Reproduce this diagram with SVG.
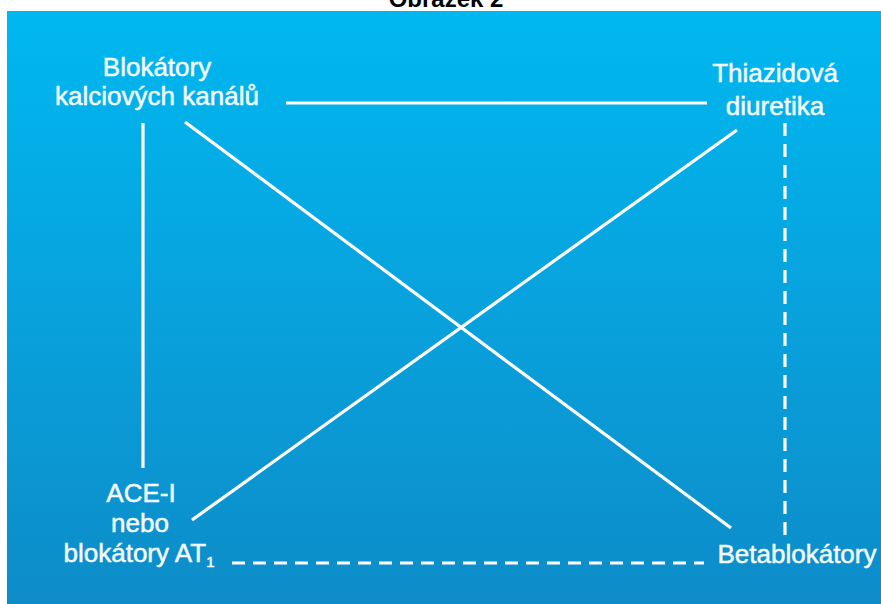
<svg xmlns="http://www.w3.org/2000/svg" width="881" height="604" viewBox="0 0 881 604">
<defs>
<linearGradient id="bg" x1="0" y1="0" x2="0" y2="1">
<stop offset="0" stop-color="#00B8F0"/>
<stop offset="0.5" stop-color="#08A2DD"/>
<stop offset="1" stop-color="#0D8CC8"/>
</linearGradient>
<style>
.lbl{font-family:"Liberation Sans",Arial,sans-serif;font-size:26px;fill:#F4FBFF;stroke:#F4FBFF;stroke-width:0.5;text-anchor:middle}
.ln{stroke:#FFFFFF;stroke-width:3.2;fill:none;stroke-linecap:butt}
.dash{stroke-dasharray:13 8}
</style>
</defs>
<rect x="0" y="0" width="881" height="604" fill="#FFFFFF"/>
<text x="446" y="7" font-family="Liberation Sans,Arial,sans-serif" font-size="24" font-weight="bold" text-anchor="middle" fill="#000000">Obrázek 2</text>
<rect x="7" y="11" width="874" height="593" fill="url(#bg)"/>
<g id="connectors">
<line class="ln" x1="286" y1="103" x2="707" y2="103"/>
<line class="ln" x1="143" y1="123" x2="143" y2="468"/>
<line class="ln" x1="185" y1="122" x2="731" y2="528"/>
<line class="ln" x1="192" y1="520" x2="737" y2="130"/>
<line class="ln dash" x1="785" y1="123" x2="785" y2="535"/>
<line class="ln dash" x1="232" y1="563" x2="704" y2="563"/>
</g>
<g id="node-blokatory-kalciovych">
<text class="lbl" x="157" y="76">Blokátory</text>
<text class="lbl" x="157" y="105">kalciových kanálů</text>
</g>
<g id="node-thiazidova">
<text class="lbl" x="775" y="82">Thiazidová</text>
<text class="lbl" x="775" y="115">diuretika</text>
</g>
<g id="node-ace">
<text class="lbl" x="141" y="502">ACE-I</text>
<text class="lbl" x="140" y="532">nebo</text>
<text class="lbl" x="139" y="562">blokátory AT<tspan font-size="15" dy="5">1</tspan></text>
</g>
<g id="node-betablokatory">
<text class="lbl" x="797" y="563">Betablokátory</text>
</g>
</svg>
